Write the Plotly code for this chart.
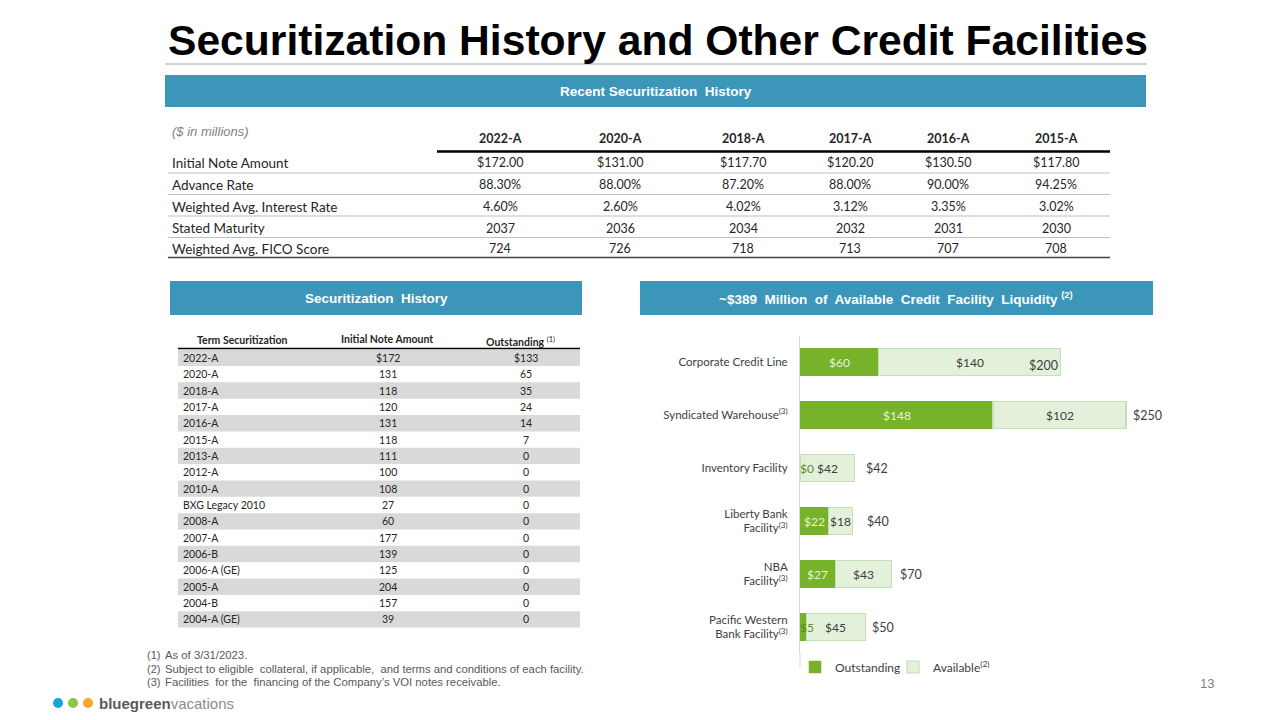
import plotly.graph_objects as go

W, H = 1280, 720

# ---------------- data ----------------
recent_cols = ["2022-A", "2020-A", "2018-A", "2017-A", "2016-A", "2015-A"]
recent_rows = ["Initial Note Amount", "Advance Rate", "Weighted Avg. Interest Rate",
               "Stated Maturity", "Weighted Avg. FICO Score"]
initial_note = [172.00, 131.00, 117.70, 120.20, 130.50, 117.80]
advance_rate = [88.30, 88.00, 87.20, 88.00, 90.00, 94.25]
interest_rate = [4.60, 2.60, 4.02, 3.12, 3.35, 3.02]
stated_maturity = [2037, 2036, 2034, 2032, 2031, 2030]
fico_score = [724, 726, 718, 713, 707, 708]

hist_terms = ["2022-A", "2020-A", "2018-A", "2017-A", "2016-A", "2015-A", "2013-A",
              "2012-A", "2010-A", "BXG Legacy 2010", "2008-A", "2007-A", "2006-B",
              "2006-A (GE)", "2005-A", "2004-B", "2004-A (GE)"]
hist_initial = [172, 131, 118, 120, 131, 118, 111, 100, 108, 27, 60, 177, 139, 125, 204, 157, 39]
hist_outstanding = [133, 65, 35, 24, 14, 7, 0, 0, 0, 0, 0, 0, 0, 0, 0, 0, 0]

facilities = ["Corporate Credit Line", "Syndicated Warehouse<sup>(3)</sup>",
              "Inventory Facility", "Liberty Bank<br>Facility<sup>(3)</sup>",
              "NBA<br>Facility<sup>(3)</sup>", "Pacific Western<br>Bank Facility<sup>(3)</sup>"]
fac_outstanding = [60, 148, 0, 22, 27, 5]
fac_available = [140, 102, 42, 18, 43, 45]
total_label_shift = [-34, 5, 9, 13, 7, 5]

# ---------------- style ----------------
BLUE = "#3B96B9"
GREEN = "#77B22B"
LIGHT = "#E3F0DA"
LIGHT_LINE = "#C5E0B4"
DARK = "#262626"
TXT = "#404040"
CAL = "Lato, 'Open Sans', sans-serif"
ARIAL = "'Liberation Sans', Arial, sans-serif"
NARROW = "'Liberation Sans Narrow', 'Liberation Sans', Arial, sans-serif"


def px(x):
    return x / W


def py(y):
    return 1 - y / H


shapes = []
annotations = []


def text(x, y, s, size=12, color=DARK, family=CAL, xanchor="center", yanchor="middle", **kw):
    annotations.append(dict(x=px(x), y=py(y), xref="paper", yref="paper", text=s,
                            showarrow=False, xanchor=xanchor, yanchor=yanchor,
                            font=dict(size=size, color=color, family=family), **kw))


def hline(x0, x1, y, color, width=1):
    shapes.append(dict(type="line", xref="paper", yref="paper", x0=px(x0), x1=px(x1),
                       y0=py(y), y1=py(y), line=dict(color=color, width=width)))


def rect(x0, y0, x1, y1, fill, line=None):
    shapes.append(dict(type="rect", xref="paper", yref="paper", x0=px(x0), x1=px(x1),
                       y0=py(y1), y1=py(y0), fillcolor=fill,
                       line=dict(width=0) if line is None else line, layer="below"))


# ---------------- title ----------------
text(166, 40, "<b>Securitization History and Other Credit Facilities</b>", size=42.6,
     color="#000000", family=ARIAL, xanchor="left")
hline(165, 1147, 64, "#A6A6A6", 1)

# ---------------- banners ----------------
rect(165, 75, 1146, 107, BLUE)
text(655.5, 91, "<b>Recent Securitization  History</b>", size=13.5, color="white", family=ARIAL)
rect(170, 281, 582, 315, BLUE)
text(376, 298, "<b>Securitization  History</b>", size=13.5, color="white", family=ARIAL)
rect(640, 281, 1153, 315, BLUE)
text(896, 298, "<b>~$389  Million  of  Available  Credit  Facility  Liquidity</b> <sup><b>(2)</b></sup>",
     size=13.5, color="white", family=ARIAL)

# ---------------- recent securitization table ----------------
col_x = [500, 620, 743, 850, 948, 1056]
row_y = [163, 185, 207, 228, 248.5]
text(170, 131, "<i>($ in millions)</i>", size=13, color="#7F7F7F", family=ARIAL, xanchor="left")
for cx, c in zip(col_x, recent_cols):
    text(cx, 138, "<b>" + c + "</b>", size=12.5, color=DARK)
hline(437, 1110, 151.5, "#000000", 2.5)
formatted = [
    ["${:.2f}".format(v) for v in initial_note],
    ["{:.2f}%".format(v) for v in advance_rate],
    ["{:.2f}%".format(v) for v in interest_rate],
    [str(v) for v in stated_maturity],
    [str(v) for v in fico_score],
]
for ry, label, vals in zip(row_y, recent_rows, formatted):
    text(170, ry, label, size=13.5, color=DARK, xanchor="left")
    for cx, v in zip(col_x, vals):
        text(cx, ry, v, size=12.5, color=DARK)
for sy in [173, 194.5, 216, 237.5]:
    hline(168, 1110, sy, "#BFBFBF", 1)
hline(168, 1110, 257.5, "#404040", 1.5)

# ---------------- securitization history table ----------------
text(242, 340, "<b>Term Securitization</b>", size=10.5, color=DARK)
text(387, 339, "<b>Initial Note Amount</b>", size=10.5, color=DARK)
text(520, 341, "<b>Outstanding</b> <sup>(1)</sup>", size=10.5, color=DARK)
hline(178, 580, 348.5, "#000000", 1.5)
step = 16.35
for i, (term, ini, out) in enumerate(zip(hist_terms, hist_initial, hist_outstanding)):
    cy = 357.8 + i * step
    if i % 2 == 0:
        rect(178, cy - step / 2, 580, cy + step / 2, "#D9D9D9")
    ini_s = ("$" if i == 0 else "") + str(ini)
    out_s = ("$" if i == 0 else "") + str(out)
    text(181, cy, term, size=10.5, color=DARK, xanchor="left")
    text(388, cy, ini_s, size=10.5, color=DARK)
    text(526, cy, out_s, size=10.5, color=DARK)

# ---------------- footnotes ----------------
notes = ["As of 3/31/2023.",
         "Subject to eligible  collateral, if applicable,  and terms and conditions of each facility.",
         "Facilities  for the  financing of the Company\u2019s VOI notes receivable."]
for k, n in enumerate(notes):
    yy = 655 + k * 13.5
    text(145, yy, "({})".format(k + 1), size=11, color="#595959", family=NARROW, xanchor="left")
    text(163, yy, n, size=11.3, color="#595959", family=NARROW, xanchor="left")

# ---------------- logo & page number ----------------
for cxp, col in [(58, "#1BA3DB"), (73, "#8DC63F"), (88, "#F5A82A")]:
    shapes.append(dict(type="circle", xref="paper", yref="paper",
                       x0=px(cxp - 5), x1=px(cxp + 5), y0=py(708), y1=py(698),
                       fillcolor=col, line=dict(width=0)))
text(97, 703, "<b>bluegreen</b><span style='color:#8C8C8C'>vacations</span>",
     size=15, color="#595959", family=ARIAL, xanchor="left")
text(1207, 683, "13", size=13, color="#7F7F7F", family=ARIAL)

# axis line continuation down to the legend (as in the reference)
shapes.append(dict(type="line", xref="paper", yref="paper", x0=px(800), x1=px(800),
                   y0=py(668), y1=py(653), line=dict(color="#D9D9D9", width=1)))

# ---------------- credit facility bar chart ----------------
fig = go.Figure()
fig.add_trace(go.Bar(
    y=facilities, x=fac_outstanding, orientation="h", name="Outstanding",
    marker=dict(color=GREEN, line=dict(color=GREEN, width=0.5)),
    hoverinfo="skip", legend="legend",
))
fig.add_trace(go.Bar(
    y=facilities, x=fac_available, orientation="h", name="Available<sup>(2)</sup>",
    marker=dict(color=LIGHT, line=dict(color=LIGHT_LINE, width=1.2)),
    hoverinfo="skip", legend="legend2",
))

for fac, o, a, sh in zip(facilities, fac_outstanding, fac_available, total_label_shift):
    if o >= 10:
        annotations.append(dict(x=o / 2, y=fac, xref="x", yref="y", text="${}".format(o),
                                showarrow=False, xanchor="center",
                                font=dict(size=12, color="#E6F2DC", family=CAL)))
    else:
        annotations.append(dict(x=0, y=fac, xref="x", yref="y", text="${}".format(o),
                                showarrow=False, xanchor="left", xshift=-2,
                                font=dict(size=12, color="#5C8F1F", family=CAL)))
    annotations.append(dict(x=o + a / 2, y=fac, xref="x", yref="y", text="${}".format(a),
                            showarrow=False, xanchor="center",
                            font=dict(size=12, color=TXT, family=CAL)))
    annotations.append(dict(x=o + a, y=fac, xref="x", yref="y", text="${}".format(o + a),
                            showarrow=False, xanchor="left", xshift=sh,
                            yshift=-3 if sh < 0 else 0,
                            font=dict(size=12.5, color=TXT, family=CAL)))

legend_common = dict(orientation="h", yanchor="middle", xanchor="left",
                     font=dict(size=12, color=TXT, family=CAL), itemwidth=30,
                     bgcolor="rgba(0,0,0,0)")
fig.update_layout(
    width=W, height=H,
    margin=dict(l=0, r=0, t=0, b=0),
    paper_bgcolor="white", plot_bgcolor="white",
    barmode="stack", bargap=0.49,
    shapes=shapes, annotations=annotations,
    showlegend=True,
    legend=dict(x=px(795), y=py(667), **legend_common),
    legend2=dict(x=px(893), y=py(667), **legend_common),
    xaxis=dict(domain=[px(800), px(800 + 280 * 1.304)], range=[0, 280], visible=False,
               fixedrange=True),
    yaxis=dict(domain=[py(653.5), py(335.5)], range=[5.5, -0.5], type="category",
               showline=True, linecolor="#D9D9D9", linewidth=1, ticks="",
               ticklabelstandoff=9,
               tickfont=dict(size=11.5, color=TXT, family=CAL), showgrid=False,
               fixedrange=True),
)

fig.write_html("out.html", config={"displayModeBar": False},
               post_script="document.body.style.margin='0px';document.body.style.overflow='hidden';")
